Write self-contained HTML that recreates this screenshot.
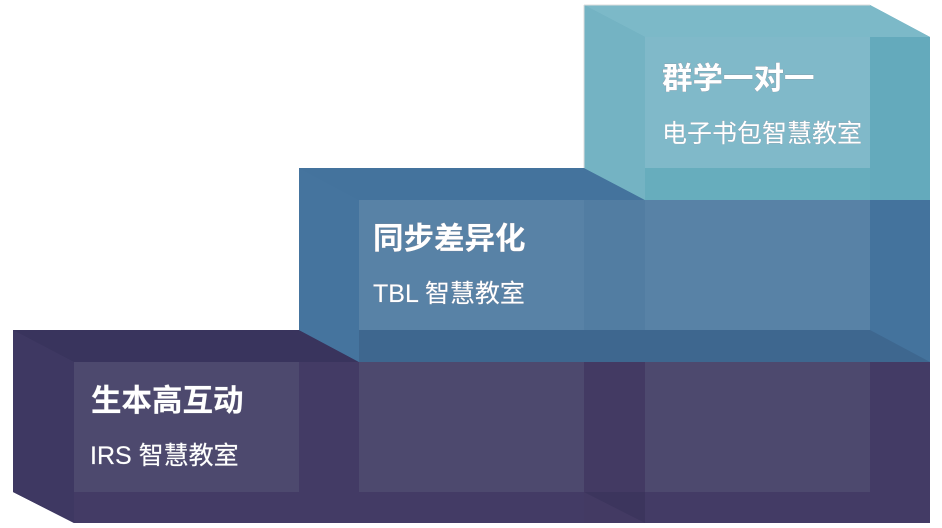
<!DOCTYPE html>
<html><head><meta charset="utf-8"><style>
html,body{margin:0;padding:0;background:#fff;width:942px;height:528px;overflow:hidden}
svg{display:block}
text{font-family:"Liberation Sans","Noto Sans CJK SC",sans-serif;fill:#fff}
.t{font-size:30.5px;font-weight:bold;stroke:#8a8a98;stroke-width:0.5px;paint-order:stroke}
.s{font-size:25px;stroke:#9a9aa8;stroke-width:0.4px;paint-order:stroke}
</style></head><body>
<svg width="942" height="528" viewBox="0 0 942 528">
<!-- bottom box -->
<polygon points="13,330 870,330 930,362 930,523 74,523 13,492" fill="#433b65"/>
<polygon points="13,330 870,330 930,362 74,362" fill="#39345d"/>
<polygon points="13,330 74,362 74,523 13,492" fill="#3e3862"/>
<rect x="74" y="362" width="796" height="130" fill="#4d496e"/>
<rect x="74" y="492" width="856" height="31" fill="#433b65"/>
<rect x="584" y="362" width="61" height="161" fill="#433a63"/>
<polygon points="584,492 645,523 645,492" fill="#3c355d"/>
<rect x="870" y="362" width="60" height="161" fill="#433b65"/>
<rect x="299" y="362" width="60" height="161" fill="#433b65"/>
<!-- middle box -->
<polygon points="299,168 870,168 930,200 930,362 359,362 299,330" fill="#44739d"/>
<polygon points="299,168 359,200 359,362 299,330" fill="#45749e"/>
<rect x="359" y="200" width="511" height="130" fill="#5882a6"/>
<rect x="359" y="330" width="571" height="32" fill="#3e678f"/>
<polygon points="870,330 930,362 930,330" fill="#44739d"/>
<rect x="584" y="200" width="61" height="130" fill="#527da2"/>
<!-- top box -->
<polygon points="584,5 870,5 930,37 930,200 645,200 584,168" fill="#6aadbe"/>
<polygon points="584,5 870,5 930,37 645,37" fill="#7cb9c8"/>
<polygon points="584,5 645,37 645,200 584,168" fill="#74b3c3"/>
<rect x="645" y="37" width="225" height="131" fill="#80b9c9"/>
<rect x="645" y="168" width="285" height="32" fill="#67adbd"/>
<rect x="870" y="37" width="60" height="163" fill="#64aabc"/>
<line x1="584" y1="5" x2="584" y2="168" stroke="#ddd" stroke-width="1"/>
<line x1="584" y1="5" x2="870" y2="5" stroke="#ddd" stroke-width="1"/>
<!-- text -->
<text class="t" x="91" y="411">生本高互动</text>
<text class="s" x="90" y="464">IRS 智慧教室</text>
<text class="t" x="373" y="249">同步差异化</text>
<text class="s" x="373" y="302">TBL 智慧教室</text>
<text class="t" x="662" y="89">群学一对一</text>
<text class="s" x="662" y="142">电子书包智慧教室</text>
</svg>
</body></html>
